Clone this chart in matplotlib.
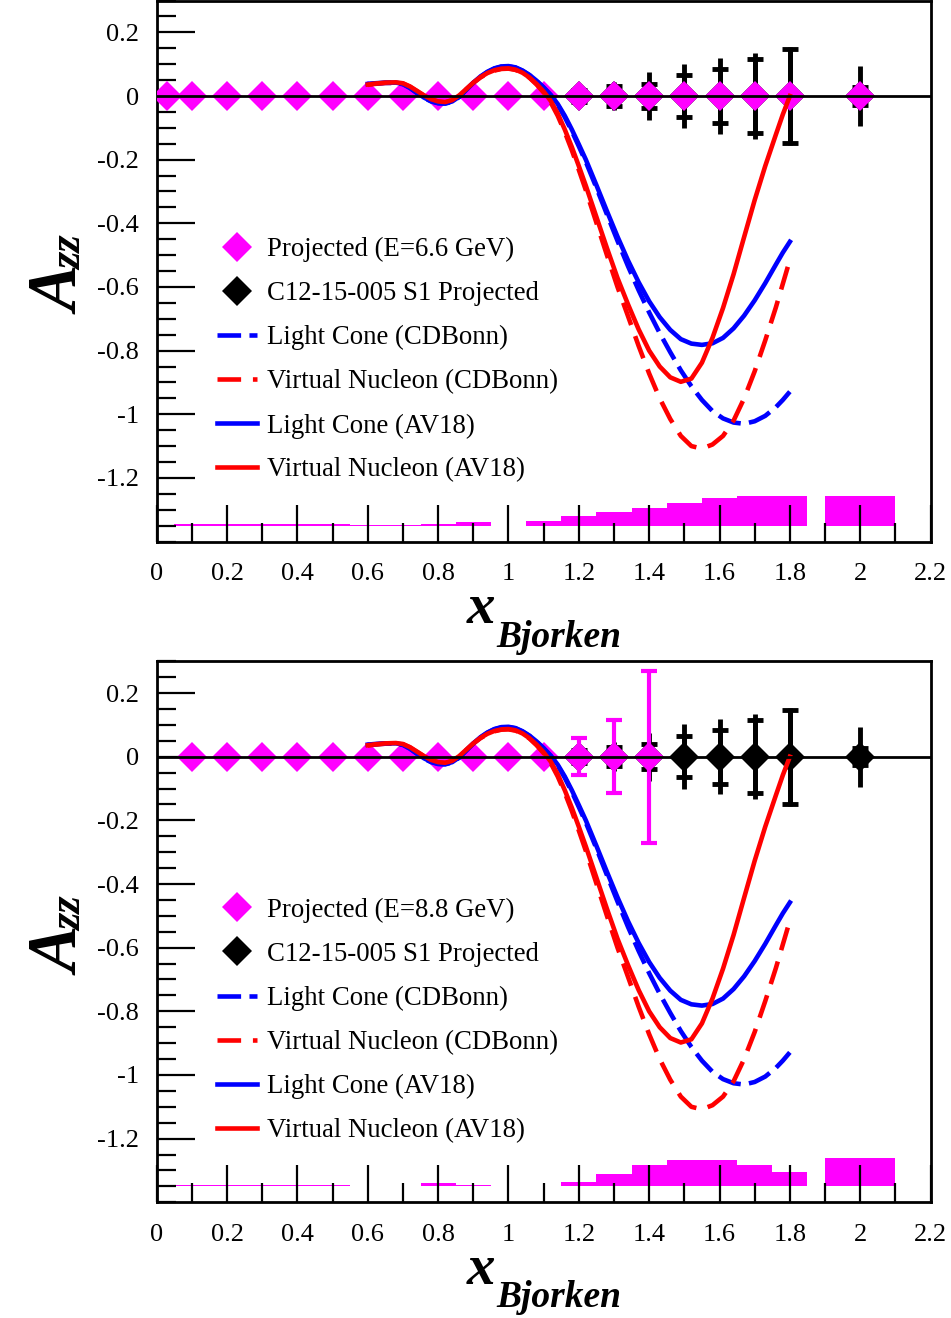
import matplotlib
matplotlib.use('Agg')
import matplotlib.pyplot as plt
from matplotlib.lines import Line2D
from matplotlib.ticker import MultipleLocator

plt.rcParams['font.family'] = ['Liberation Serif', 'DejaVu Serif']
plt.rcParams['lines.scale_dashes'] = False

# theory curves, same in both panels
x_theory = [0.60, 0.62, 0.65, 0.68, 0.70, 0.72, 0.74, 0.76, 0.78, 0.80,
            0.82, 0.84, 0.86, 0.88, 0.90, 0.92, 0.94, 0.96, 0.98, 1.00,
            1.02, 1.04, 1.06, 1.08, 1.10, 1.12, 1.14, 1.16, 1.18, 1.20,
            1.22, 1.25, 1.28, 1.31, 1.34, 1.37, 1.40, 1.43, 1.46, 1.49,
            1.52, 1.55, 1.58, 1.61, 1.64, 1.67, 1.70, 1.73, 1.76, 1.78, 1.80]
lc_av18 = [0.038, 0.040, 0.042, 0.042, 0.038, 0.026, 0.010, -0.005, -0.016, -0.022,
           -0.023, -0.017, -0.002, 0.020, 0.042, 0.061, 0.076, 0.087, 0.093, 0.094,
           0.090, 0.080, 0.066, 0.048, 0.027, 0.004, -0.025, -0.062, -0.105, -0.152,
           -0.200, -0.280, -0.362, -0.442, -0.517, -0.585, -0.645, -0.695, -0.735, -0.764,
           -0.778, -0.782, -0.777, -0.760, -0.730, -0.690, -0.642, -0.588, -0.530, -0.492, -0.458]
vn_av18 = [0.036, 0.039, 0.042, 0.043, 0.040, 0.030, 0.016, 0.002, -0.010, -0.017,
           -0.019, -0.013, 0.002, 0.022, 0.042, 0.059, 0.072, 0.081, 0.086, 0.087,
           0.083, 0.073, 0.058, 0.038, 0.014, -0.015, -0.055, -0.105, -0.160, -0.220,
           -0.282, -0.380, -0.478, -0.572, -0.655, -0.733, -0.800, -0.850, -0.884, -0.898,
           -0.888, -0.838, -0.760, -0.666, -0.560, -0.443, -0.327, -0.220, -0.122, -0.058, 0.000]
vn_cdbonn = [0.035, 0.038, 0.041, 0.042, 0.039, 0.029, 0.015, 0.001, -0.011, -0.018,
             -0.020, -0.014, 0.001, 0.021, 0.041, 0.058, 0.071, 0.080, 0.085, 0.086,
             0.082, 0.072, 0.057, 0.036, 0.011, -0.020, -0.062, -0.113, -0.170, -0.232,
             -0.296, -0.398, -0.500, -0.600, -0.692, -0.785, -0.872, -0.950, -1.015, -1.068,
             -1.100, -1.108, -1.095, -1.068, -1.020, -0.950, -0.865, -0.768, -0.665, -0.590, -0.515]
lc_cdbonn = [0.037, 0.039, 0.041, 0.041, 0.037, 0.025, 0.009, -0.006, -0.017, -0.023,
             -0.024, -0.018, -0.003, 0.019, 0.041, 0.060, 0.075, 0.086, 0.092, 0.093,
             0.089, 0.079, 0.065, 0.047, 0.026, 0.002, -0.028, -0.066, -0.110, -0.158,
             -0.207, -0.288, -0.372, -0.455, -0.535, -0.610, -0.680, -0.745, -0.805, -0.862,
             -0.912, -0.955, -0.990, -1.013, -1.026, -1.030, -1.022, -1.005, -0.978, -0.955, -0.929]

# C12-15-005 S1 projected points (both panels)
c12_x = [1.2, 1.3, 1.4, 1.5, 1.6, 1.7, 1.8, 2.0]
c12_y = [0.0, 0.0, 0.0, 0.0, 0.0, 0.0, 0.0, 0.0]
c12_err_in = [0.020, 0.030, 0.039, 0.065, 0.085, 0.115, 0.147, 0.027]
c12_err_out = [0.020, 0.045, 0.076, 0.102, 0.118, 0.134, 0.154, 0.094]

# projected points, E=6.6 GeV
p66_x = [0.03, 0.1, 0.2, 0.3, 0.4, 0.5, 0.6, 0.7, 0.8, 0.9, 1.0, 1.1, 1.2, 1.3, 1.4,
         1.5, 1.6, 1.7, 1.8, 2.0]
p66_y = [0.0, 0.0, 0.0, 0.0, 0.0, 0.0, 0.0, 0.0, 0.0, 0.0, 0.0, 0.0, 0.0, 0.0, 0.0,
         0.0, 0.0, 0.0, 0.0, 0.0]
p66_err = [0.0, 0.0, 0.0, 0.0, 0.0, 0.0, 0.0, 0.0, 0.0, 0.0, 0.0, 0.0, 0.0, 0.0, 0.0,
           0.0, 0.0, 0.0, 0.0, 0.0]

# projected points, E=8.8 GeV
p88_x = [0.1, 0.2, 0.3, 0.4, 0.5, 0.6, 0.7, 0.8, 0.9, 1.0, 1.1, 1.2, 1.3, 1.4]
p88_y = [0.0, 0.0, 0.0, 0.0, 0.0, 0.0, 0.0, 0.0, 0.0, 0.0, 0.0, 0.0, 0.0, 0.0]
p88_err = [0.0, 0.0, 0.0, 0.0, 0.0, 0.0, 0.0, 0.0, 0.0, 0.0, 0.005, 0.058, 0.115, 0.270]

# systematic error bands at the bottom
sys_x = [0.1, 0.2, 0.3, 0.4, 0.5, 0.6, 0.7, 0.8, 0.9, 1.0, 1.1, 1.2, 1.3, 1.4, 1.5,
         1.6, 1.7, 1.8, 2.0]
sys_w = [0.1, 0.1, 0.1, 0.1, 0.1, 0.1, 0.1, 0.1, 0.1, 0.1, 0.1, 0.1, 0.1, 0.1, 0.1,
         0.1, 0.1, 0.1, 0.2]
sys66 = [0.004, 0.004, 0.004, 0.004, 0.004, 0.002, 0.002, 0.004, 0.010, 0.0,
         0.014, 0.029, 0.043, 0.055, 0.071, 0.088, 0.092, 0.092, 0.092]
sys88 = [0.005, 0.005, 0.005, 0.005, 0.005, 0.002, 0.002, 0.010, 0.003, 0.0,
         0.002, 0.014, 0.039, 0.066, 0.082, 0.082, 0.068, 0.044, 0.090]
sys_base = -1.35

xticks = [0, 0.2, 0.4, 0.6, 0.8, 1.0, 1.2, 1.4, 1.6, 1.8, 2.0, 2.2]
xtick_labels = ['0', '0.2', '0.4', '0.6', '0.8', '1', '1.2', '1.4', '1.6', '1.8', '2', '2.2']
yticks = [-1.2, -1.0, -0.8, -0.6, -0.4, -0.2, 0.0, 0.2]
ytick_labels = ['-1.2', '-1', '-0.8', '-0.6', '-0.4', '-0.2', '0', '0.2']

MAG = '#ff00ff'
BLUE = '#0000ff'
RED = '#ff0000'
blue_dash = (0, (17, 6))
red_dash = (0, (17, 8.5))
MS = 15
LW = 3.3


def draw_panel(ax, px, py, perr, sysh, energy):
    ax.bar(sys_x, sysh, width=sys_w, bottom=sys_base, color=MAG, linewidth=0, zorder=1)

    # C12 points: long bar without caps, short bar with caps
    ax.errorbar(c12_x, c12_y, yerr=c12_err_out, fmt='none', ecolor='k',
                elinewidth=3.5, capsize=0, zorder=2)
    ax.errorbar(c12_x, c12_y, yerr=c12_err_in, fmt='none', ecolor='k',
                elinewidth=3.5, capsize=6, capthick=3.5, zorder=2)
    ax.plot(c12_x, c12_y, 'D', color='k', ms=MS, mew=0, zorder=2.1)
    ax.errorbar(px, py, yerr=perr, fmt='none', ecolor=MAG, elinewidth=3,
                capsize=6, capthick=3, zorder=3)
    ax.plot(px, py, 'D', color=MAG, ms=MS, mew=0, zorder=3.1)

    ax.plot(x_theory, lc_cdbonn, color=BLUE, lw=LW, ls=blue_dash, zorder=4)
    ax.plot(x_theory, vn_cdbonn, color=RED, lw=LW, ls=red_dash, zorder=4)
    ax.plot(x_theory, lc_av18, color=BLUE, lw=LW, zorder=4)
    ax.plot(x_theory, vn_av18, color=RED, lw=LW, zorder=4)
    ax.axhline(0, color='k', lw=2, zorder=5)

    ax.set_xlim(0, 2.2)
    ax.set_ylim(-1.4, 0.3)
    ax.set_xticks(xticks, labels=xtick_labels)
    ax.set_yticks(yticks, labels=ytick_labels)
    ax.xaxis.set_minor_locator(MultipleLocator(0.1))
    ax.yaxis.set_minor_locator(MultipleLocator(0.05))
    ax.tick_params(which='both', direction='in', top=False, right=False, width=1.6,
                   labelsize=19)
    ax.tick_params(which='major', length=27)
    ax.tick_params(which='minor', length=13.5)
    ax.tick_params(axis='x', pad=15.5)
    ax.tick_params(axis='y', pad=13)
    for s in ax.spines.values():
        s.set_linewidth(2)

    handles = [
        Line2D([], [], marker='D', color=MAG, ls='none', ms=MS, mew=0),
        Line2D([], [], marker='D', color='k', ls='none', ms=MS, mew=0),
        Line2D([], [], color=BLUE, lw=LW, ls=blue_dash),
        Line2D([], [], color=RED, lw=LW, ls=red_dash),
        Line2D([], [], color=BLUE, lw=LW),
        Line2D([], [], color=RED, lw=LW),
    ]
    labels = ['Projected (E=%s GeV)' % energy, 'C12-15-005 S1 Projected',
              'Light Cone (CDBonn)', 'Virtual Nucleon (CDBonn)',
              'Light Cone (AV18)', 'Virtual Nucleon (AV18)']
    ax.legend(handles, labels, loc='upper left', bbox_to_anchor=(0.078, 0.563),
              frameon=False, fontsize=19.3, handlelength=1.5, handletextpad=0.35,
              labelspacing=0.71, borderpad=0, borderaxespad=0, numpoints=1)


fig = plt.figure(figsize=(9.51, 13.18), dpi=100)
ax1 = fig.add_axes([0.1648, 0.5891, 0.8137, 0.4105])
ax2 = fig.add_axes([0.1648, 0.0878, 0.8137, 0.4105])
draw_panel(ax1, p66_x, p66_y, p66_err, sys66, '6.6')
draw_panel(ax2, p88_x, p88_y, p88_err, sys88, '8.8')

lab = dict(family='Liberation Serif', style='italic', weight='bold')
for dy in (0.0, 0.5013):
    # x axis title
    fig.text(0.5205, 0.5271 - dy, 'x', fontsize=41, ha='right', va='baseline', **lab)
    fig.text(0.5223, 0.5093 - dy, 'Bjorken', fontsize=27, ha='left', va='baseline', **lab)
    # y axis title
    fig.text(0.0841, 0.7618 - dy, 'A', fontsize=50, rotation=90, rotation_mode='anchor',
             ha='left', va='baseline', **lab)
    fig.text(0.0855, 0.7950 - dy, 'zz', fontsize=32, rotation=90, rotation_mode='anchor',
             ha='left', va='baseline', **lab)

fig.savefig('out.png', dpi=100)
